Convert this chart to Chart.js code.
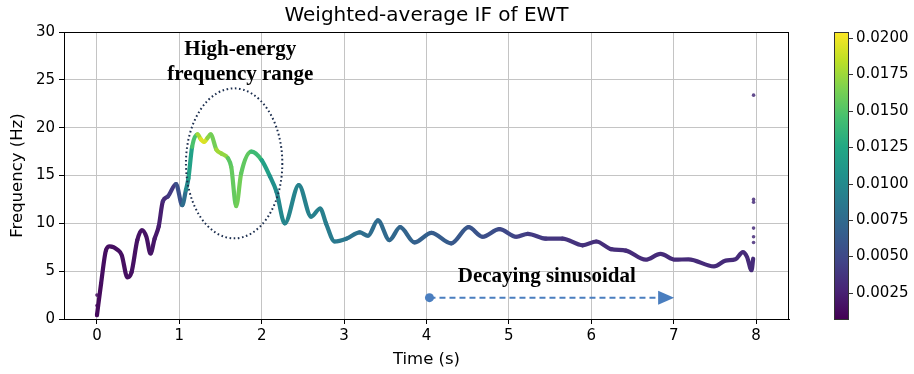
<!DOCTYPE html>
<html>
<head>
<meta charset="utf-8">
<title>Weighted-average IF of EWT</title>
<script src="https://cdn.jsdelivr.net/npm/chart.js@4.4.0/dist/chart.umd.min.js"></script>
<style>
    html, body { margin: 0; padding: 0; background: #fff; }
    #wrap { width: 914px; height: 374px; position: relative; }
</style>
</head>
<body>
<div id="wrap"><canvas id="ifChart"></canvas></div>
<script>
// Данные: время (с), частота (Гц), вес (значение цветовой шкалы)
const times = [0.00, 0.05, 0.11, 0.155, 0.255, 0.30, 0.37, 0.42, 0.49, 0.545, 0.60, 0.65, 0.70, 0.75, 0.80, 0.86, 0.96,
    1.035, 1.08, 1.11, 1.155, 1.22, 1.26, 1.30, 1.34, 1.38, 1.45, 1.51, 1.59, 1.63, 1.69, 1.75, 1.875, 2.00, 2.10, 2.18, 2.28,
    2.45, 2.60, 2.71, 2.78, 2.885, 3.03, 3.19, 3.29, 3.41, 3.55, 3.68, 3.855, 4.06, 4.30, 4.51, 4.68, 4.885, 5.09,
    5.23, 5.45, 5.65, 5.895, 6.06, 6.24, 6.42, 6.66, 6.84, 7.02, 7.18, 7.49, 7.63, 7.75, 7.84, 7.89, 7.945, 7.965];
const freqs = [0.4, 3.7, 7.2, 7.6, 7.2, 6.7, 4.35, 4.9, 8.25, 9.3, 8.6, 6.85, 8.4, 9.7, 12.3, 12.8, 14.1,
    11.9, 13.5, 14.7, 18.0, 19.3, 18.8, 18.5, 18.9, 19.3, 17.7, 17.3, 16.8, 15.9, 11.8, 15.2, 17.5, 16.6, 14.9, 13.3, 10.0,
    14.0, 10.7, 11.55, 10.0, 8.1, 8.4, 9.05, 8.7, 10.3, 8.25, 9.6, 8.0, 9.0, 7.9, 9.6, 8.6, 9.4, 8.6,
    8.9, 8.4, 8.4, 7.7, 8.1, 7.3, 7.15, 6.2, 6.8, 6.2, 6.24, 5.5, 6.1, 6.24, 7.0, 6.5, 5.1, 6.3];
const weights = [0.0011, 0.0013, 0.0015, 0.0015, 0.0015, 0.0015, 0.0015, 0.0015, 0.0017, 0.0017, 0.0017, 0.0017, 0.0019, 0.0021, 0.0027, 0.0035, 0.0046,
    0.0066, 0.0090, 0.0109, 0.0129, 0.0165, 0.0190, 0.0200, 0.0185, 0.0155, 0.0168, 0.0185, 0.0158, 0.0148, 0.0165, 0.0157, 0.0153, 0.0129, 0.0109, 0.0100, 0.0096,
    0.0094, 0.0092, 0.0092, 0.0090, 0.0088, 0.0084, 0.0080, 0.0078, 0.0076, 0.0074, 0.0072, 0.0068, 0.0066, 0.0062, 0.0060, 0.0056, 0.0052, 0.0046,
    0.0042, 0.0039, 0.0037, 0.0035, 0.0033, 0.0033, 0.0031, 0.0031, 0.0031, 0.0031, 0.0031, 0.0031, 0.0031, 0.0031, 0.0031, 0.0031, 0.0031, 0.0031];

// Отдельные точки в начале и в конце сигнала
const edgeTimes = [0.0, 0.0, 7.97, 7.97, 7.97, 7.97, 7.97, 7.97];
const edgeFreqs = [2.5, 1.4, 23.4, 12.5, 12.2, 9.5, 8.6, 8.0];
const edgeWeights = [0.0015, 0.0015, 0.0031, 0.0031, 0.0031, 0.0031, 0.0031, 0.0031];

// Оси и цветовая шкала
const xTicks = [0, 1, 2, 3, 4, 5, 6, 7, 8];
const yTicks = [0, 5, 10, 15, 20, 25, 30];
const cbTicks = [0.0025, 0.0050, 0.0075, 0.0100, 0.0125, 0.0150, 0.0175, 0.0200];
const cbMin = 0.0007;
const cbMax = 0.0204;

// Палитра viridis
const viridis = ['#440154', '#482475', '#414487', '#355f8d', '#2a788e', '#21918c',
    '#22a884', '#44bf70', '#7ad151', '#bddf26', '#fde725'];

function hexToRgb(h) {
    return [parseInt(h.slice(1, 3), 16), parseInt(h.slice(3, 5), 16), parseInt(h.slice(5, 7), 16)];
}

function cmap(v, alpha) {
    let n = (v - cbMin) / (cbMax - cbMin);
    n = Math.max(0, Math.min(1, n));
    const p = n * (viridis.length - 1);
    const i = Math.min(Math.floor(p), viridis.length - 2);
    const f = p - i;
    const a = hexToRgb(viridis[i]), b = hexToRgb(viridis[i + 1]);
    const c = a.map((x, k) => Math.round(x + (b[k] - x) * f));
    return `rgba(${c[0]},${c[1]},${c[2]},${alpha ?? 1})`;
}

// Рамка, эллипс, подписи, стрелка и цветовая шкала
const extrasPlugin = {
    id: 'extras',
    afterDatasetsDraw(chart) {
        const { ctx, chartArea: a, scales: { x, y } } = chart;
        ctx.save();

        // пунктирный эллипс
        const cx = x.getPixelForValue(1.665), cy = y.getPixelForValue(16.27);
        const rx = x.getPixelForValue(1.665 + 0.585) - cx;
        const ry = cy - y.getPixelForValue(16.27 + 7.84);
        ctx.beginPath();
        ctx.setLineDash([1.6, 2.6]);
        ctx.lineWidth = 2;
        ctx.strokeStyle = '#1d2f4f';
        ctx.ellipse(cx, cy, rx, ry, 0, 0, Math.PI * 2);
        ctx.stroke();
        ctx.setLineDash([]);

        // подписи
        ctx.fillStyle = '#000';
        ctx.font = 'bold 21px "Liberation Serif", "Times New Roman", serif';
        ctx.textAlign = 'center';
        ctx.textBaseline = 'middle';
        ctx.fillText('High-energy', x.getPixelForValue(1.74), y.getPixelForValue(28.2));
        ctx.fillText('frequency range', x.getPixelForValue(1.74), y.getPixelForValue(25.6));
        ctx.fillText('Decaying sinusoidal', x.getPixelForValue(5.46), y.getPixelForValue(4.4));

        // стрелка
        const ay = y.getPixelForValue(2.23);
        const ax0 = x.getPixelForValue(4.036), ax1 = x.getPixelForValue(7.006);
        ctx.strokeStyle = '#4a7ebf';
        ctx.fillStyle = '#4a7ebf';
        ctx.lineWidth = 2;
        ctx.setLineDash([6, 4]);
        ctx.beginPath();
        ctx.moveTo(ax0, ay);
        ctx.lineTo(ax1 - 14, ay);
        ctx.stroke();
        ctx.setLineDash([]);
        ctx.beginPath();
        ctx.arc(ax0, ay, 4.5, 0, Math.PI * 2);
        ctx.fill();
        ctx.beginPath();
        ctx.moveTo(ax1, ay);
        ctx.lineTo(ax1 - 16, ay - 7);
        ctx.lineTo(ax1 - 16, ay + 7);
        ctx.closePath();
        ctx.fill();

        // рамка верх/право
        ctx.strokeStyle = '#000';
        ctx.lineWidth = 1;
        ctx.strokeRect(a.left + 0.5, a.top + 0.5, a.right - a.left - 1, a.bottom - a.top);

        // цветовая шкала
        const bx = a.right + 45, bw = 14;
        const grad = ctx.createLinearGradient(0, a.bottom, 0, a.top);
        viridis.forEach((c, i) => grad.addColorStop(i / (viridis.length - 1), c));
        ctx.fillStyle = grad;
        ctx.fillRect(bx, a.top, bw, a.bottom - a.top);
        ctx.strokeStyle = '#333';
        ctx.strokeRect(bx + 0.5, a.top + 0.5, bw, a.bottom - a.top);
        ctx.fillStyle = '#000';
        ctx.font = '15px "DejaVu Sans", sans-serif';
        ctx.textAlign = 'left';
        ctx.textBaseline = 'middle';
        cbTicks.forEach(v => {
            const py = Math.round(a.bottom - (v - cbMin) / (cbMax - cbMin) * (a.bottom - a.top)) + 0.5;
            ctx.beginPath();
            ctx.moveTo(bx + bw, py);
            ctx.lineTo(bx + bw + 5, py);
            ctx.stroke();
            ctx.fillText(v.toFixed(4), bx + bw + 8, py);
        });

        ctx.restore();
    }
};

document.addEventListener('DOMContentLoaded', function () {
    const ctx = document.getElementById('ifChart').getContext('2d');

    new Chart(ctx, {
        type: 'line',
        data: {
            datasets: [{
                label: 'IF',
                data: times.map((t, i) => ({ x: t, y: freqs[i] })),
                borderWidth: 4.2,
                borderCapStyle: 'round',
                borderJoinStyle: 'round',
                pointRadius: 0,
                cubicInterpolationMode: 'monotone',
                segment: {
                    borderColor: c => cmap((weights[c.p0DataIndex] + weights[c.p1DataIndex]) / 2)
                }
            }, {
                type: 'scatter',
                label: 'edges',
                data: edgeTimes.map((t, i) => ({ x: t, y: edgeFreqs[i] })),
                pointRadius: 1.8,
                pointBorderWidth: 0,
                pointBackgroundColor: edgeWeights.map(w => cmap(w, 0.85))
            }]
        },
        options: {
            responsive: true,
            maintainAspectRatio: false,
            animation: false,
            layout: { padding: { left: 0, right: 125, top: 0, bottom: 0 } },
            plugins: {
                legend: { display: false },
                tooltip: { enabled: false },
                title: {
                    display: true,
                    fullSize: false,
                    text: 'Weighted-average IF of EWT',
                    color: '#000',
                    font: { family: '"DejaVu Sans", sans-serif', size: 20, weight: 'normal', lineHeight: 1.2 },
                    padding: { top: 4, bottom: 4 }
                }
            },
            scales: {
                x: {
                    type: 'linear',
                    min: -0.4,
                    max: 8.4,
                    afterBuildTicks: s => { s.ticks = xTicks.map(v => ({ value: v })); },
                    afterFit: s => { s.height = 55; },
                    ticks: { color: '#000', padding: 3, font: { family: '"DejaVu Sans", sans-serif', size: 15 } },
                    grid: { color: '#c4c4c4', lineWidth: 1, tickColor: '#000', tickLength: 5 },
                    border: { display: true, color: '#000', width: 1 },
                    title: {
                        display: true, text: 'Time (s)', color: '#000',
                        font: { family: '"DejaVu Sans", sans-serif', size: 16.5 },
                        padding: { top: 0, bottom: 4 }
                    }
                },
                y: {
                    type: 'linear',
                    min: 0,
                    max: 30,
                    afterBuildTicks: s => { s.ticks = yTicks.map(v => ({ value: v })); },
                    afterFit: s => { s.width = 64; },
                    ticks: { color: '#000', padding: 4, font: { family: '"DejaVu Sans", sans-serif', size: 15 } },
                    grid: { color: '#c4c4c4', lineWidth: 1, tickColor: '#000', tickLength: 5 },
                    border: { display: true, color: '#000', width: 1 },
                    title: {
                        display: true, text: 'Frequency (Hz)', color: '#000',
                        font: { family: '"DejaVu Sans", sans-serif', size: 16.5 },
                        padding: { top: 8, bottom: 0 }
                    }
                }
            }
        },
        plugins: [extrasPlugin]
    });
});
</script>
</body>
</html>
